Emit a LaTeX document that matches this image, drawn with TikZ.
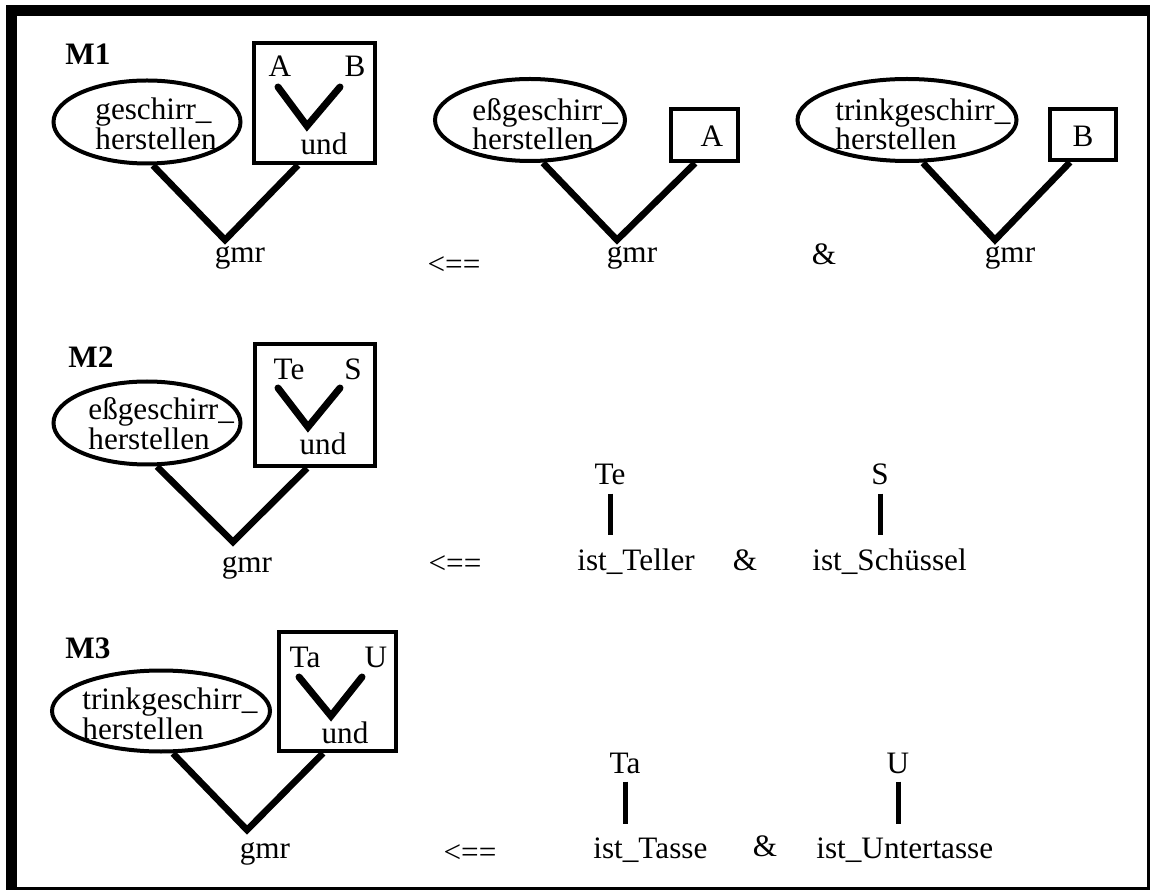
\documentclass[tikz,border=0pt]{standalone}
\usepackage{fontspec}
\setmainfont{Liberation Serif}
\usetikzlibrary{shapes,positioning}
\tikzset{
    pred/.style={draw, ellipse, line width=2pt, inner sep=0pt},
    argbox/.style={draw, rectangle, line width=2.2pt, inner sep=0pt},
    branch/.style={line width=3.3pt},
    junctor/.style={line width=3.5pt, line cap=round},
    stem/.style={line width=2.5pt, shorten <=4pt, shorten >=6.5pt},
    word/.style={inner sep=0pt, anchor=base},
    phrase/.style={inner sep=0pt, anchor=base west}
}

\begin{document}
\begin{tikzpicture}[x=0.5pt, y=-0.5pt, font={\fontsize{15.6}{15}\selectfont}]
    \useasboundingbox (0,0) rectangle (1150,892);
    % frame
    \fill (6,5) rectangle (1150,890);
    \fill[white] (17,16) rectangle (1147,887);

    % M1
    \node[phrase, font={\fontsize{15.6}{15}\selectfont\bfseries}] (m1) at (65,65) {M1};
    \node[pred, minimum width=93.5pt, minimum height=41.5pt] (e1) at (147,122) {};
    \node[phrase] (e1a) at (95,120) {geschirr\_};
    \node[phrase] (e1b) at (95,150) {herstellen};
    \node[argbox, minimum width=60.5pt, minimum height=60pt] (b1) at (314.5,103) {};
    \node[word] (a1) at (280,77) {A};
    \node[word] (bb1) at (355,77) {B};
    \draw[junctor] (278,87) -- (307,126) -- (340,87);
    \node[word] (und1) at (324,155) {und};
    \coordinate (v1) at (225,240);
    \draw[branch] ([xshift=3pt]e1.south) -- (v1) -- ([xshift=-8.25pt]b1.south);
    \node[word] (g1) at (240,263) {gmr};

    \node[word] (imp1) at (454,275) {<==};

    \node[pred, minimum width=95pt, minimum height=41pt] (e2) at (530,120) {};
    \node[phrase] (e2a) at (472,121) {eßgeschirr\_};
    \node[phrase] (e2b) at (472,150) {herstellen};
    \node[argbox, minimum width=33.5pt, minimum height=26pt] (b2) at (704.5,135) {};
    \node[word] (a2) at (712,147) {A};
    \coordinate (v2) at (617,240);
    \draw[branch] ([xshift=6.5pt]e2.south) -- (v2) -- ([xshift=-4.75pt]b2.south);
    \node[word] (g2) at (632,263) {gmr};

    \node[word] (and1) at (824,265) {\&};

    \node[pred, minimum width=109.5pt, minimum height=41pt] (e3) at (907,120) {};
    \node[phrase] (e3a) at (835,121) {trinkgeschirr\_};
    \node[phrase] (e3b) at (835,150) {herstellen};
    \node[argbox, minimum width=33pt, minimum height=25.5pt] (b3) at (1083,134.5) {};
    \node[word] (bb3) at (1083,147) {B};
    \coordinate (v3) at (995,240);
    \draw[branch] ([xshift=8pt]e3.south) -- (v3) -- ([xshift=-6.5pt]b3.south);
    \node[word] (g3) at (1010,263) {gmr};

    % M2
    \node[phrase, font={\fontsize{15.6}{15}\selectfont\bfseries}] (m2) at (68,368) {M2};
    \node[pred, minimum width=93.5pt, minimum height=41.5pt] (e4) at (147,423) {};
    \node[phrase] (e4a) at (88,420) {eßgeschirr\_};
    \node[phrase] (e4b) at (88,450) {herstellen};
    \node[argbox, minimum width=60pt, minimum height=61pt] (b4) at (315,405) {};
    \node[word] (te1) at (289,380) {Te};
    \node[word] (s1) at (353,380) {S};
    \draw[junctor] (278,388) -- (308,427) -- (340,388);
    \node[word] (und4) at (323,455) {und};
    \coordinate (v4) at (233,542);
    \draw[branch] ([xshift=5pt]e4.south) -- (v4) -- ([xshift=-4pt]b4.south);
    \node[word] (g4) at (247,572) {gmr};

    \node[word] (imp2) at (455,573) {<==};
    \node[word] (te2) at (610,485) {Te};
    \node[phrase] (tel) at (577,570) {ist\_Teller};
    \draw[stem] (te2.south) -- (te2.south |- tel.north);
    \node[word] (and2) at (745,570) {\&};
    \node[word] (s2) at (880,485) {S};
    \node[phrase] (sch) at (812,570) {ist\_Schüssel};
    \draw[stem] (s2.south) -- (s2.south |- sch.north);

    % M3
    \node[phrase, font={\fontsize{15.6}{15}\selectfont\bfseries}] (m3) at (65,658) {M3};
    \node[pred, minimum width=109pt, minimum height=40.5pt] (e7) at (161,711) {};
    \node[phrase] (e7a) at (82,709) {trinkgeschirr\_};
    \node[phrase] (e7b) at (82,739) {herstellen};
    \node[argbox, minimum width=58.5pt, minimum height=59.5pt] (b7) at (337.5,691.5) {};
    \node[word] (ta1) at (305,667) {Ta};
    \node[word] (u1) at (376,667) {U};
    \draw[junctor] (299,677) -- (331,716) -- (362,677);
    \node[word] (und7) at (345,743) {und};
    \coordinate (v7) at (247,830);
    \draw[branch] ([xshift=6pt]e7.south) -- (v7) -- ([xshift=-7.25pt]b7.south);
    \node[word] (g7) at (265,858) {gmr};

    \node[word] (imp3) at (470,862) {<==};
    \node[word] (ta2) at (625,773) {Ta};
    \node[phrase] (tas) at (593,858) {ist\_Tasse};
    \draw[stem] (ta2.south) -- (ta2.south |- tas.north);
    \node[word] (and3) at (765,856) {\&};
    \node[word] (u2) at (898,773) {U};
    \node[phrase] (unt) at (816,858) {ist\_Untertasse};
    \draw[stem] (u2.south) -- (u2.south |- unt.north);
\end{tikzpicture}
\end{document}
